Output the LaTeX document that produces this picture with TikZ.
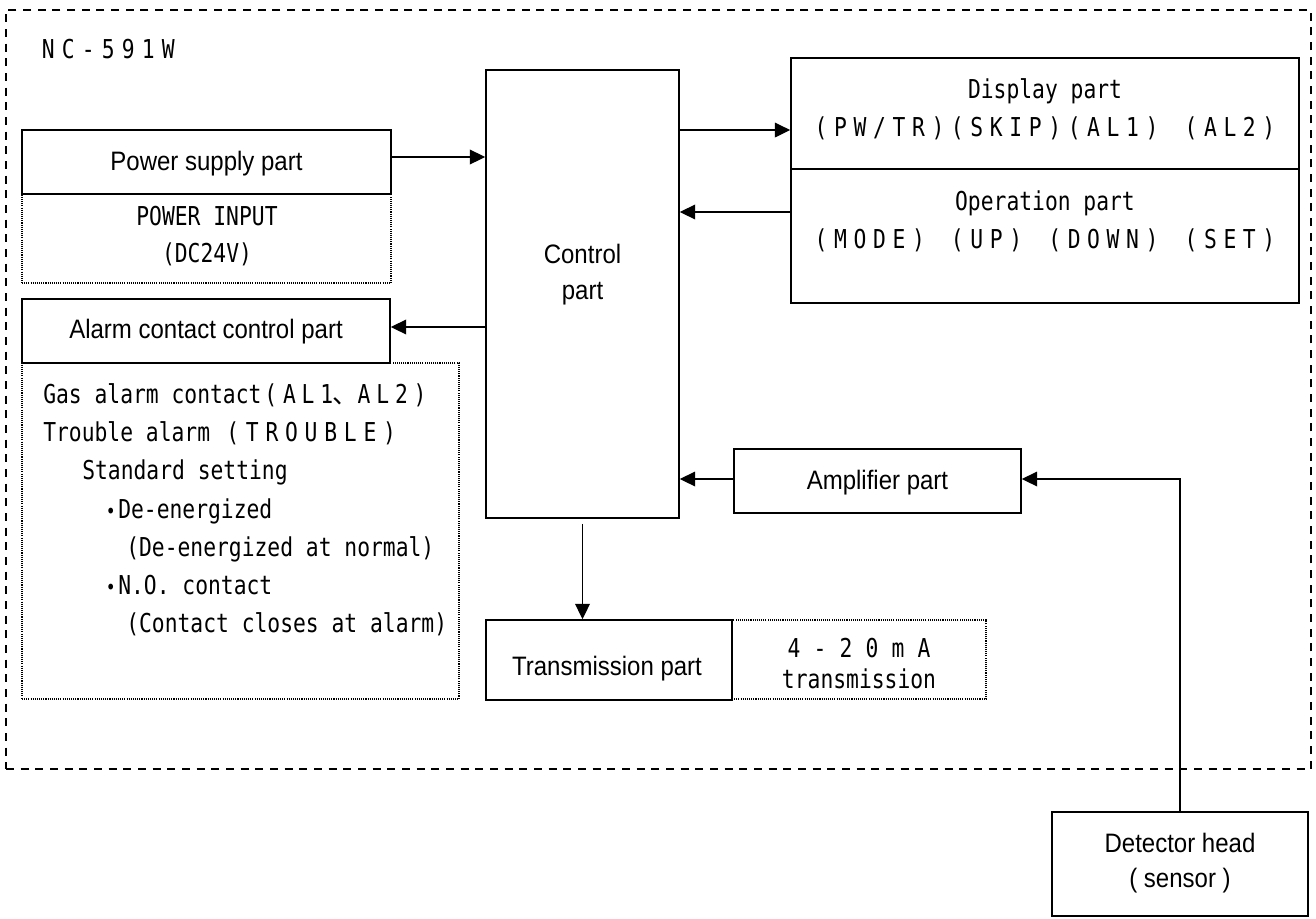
\documentclass[tikz,border=0pt]{standalone}
\usepackage{fontspec}
\setmainfont{Liberation Sans}[FakeStretch=0.9]
\newfontfamily\monof{DejaVu Sans Mono}[FakeStretch=0.82]
\newfontfamily\cjkf{Noto Sans CJK JP}
\usetikzlibrary{arrows.meta}
\makeatletter
\newlength\fwlen
\newcommand\fwstr[2]{\setlength\fwlen{#1}\@tfor\fw@c:=#2\do{\makebox[\fwlen]{\fw@c}}}
\makeatother
\newcommand\labf{\fontsize{20pt}{24pt}\selectfont}
\newcommand\monotxt{\monof\fontsize{19.5pt}{24pt}\selectfont}
\newcommand\bul{\makebox[11.25pt]{\monof\fontsize{15pt}{18pt}\selectfont •}}
\tikzset{
  blk/.style={draw, line width=1.2pt, inner sep=0pt},
  notebox/.style={draw, line width=0.8pt, dash pattern=on 0.8pt off 0.8pt, inner sep=0pt},
  unitbox/.style={draw, line width=1.1pt, dash pattern=on 6pt off 5pt, inner sep=0pt},
  lab/.style={font=\labf, inner sep=0pt},
  mono/.style={font=\monotxt, inner sep=0pt},
  arr/.style={line width=1pt, -{Triangle[length=11.5pt,width=11pt]}},
  wire/.style={line width=1pt}
}
\begin{document}
\begin{tikzpicture}[x=0.75pt,y=-0.75pt]
\useasboundingbox (0,0) rectangle (1316,918);
% outer unit
\node[unitbox, minimum width=978.75pt, minimum height=569.25pt] (unit) at (658.5,389.5) {};
% note boxes
\node[notebox, minimum width=276.75pt, minimum height=66.75pt] (psunote) at (206.5,238.5) {};
\node[notebox, minimum width=327.75pt, minimum height=252pt] (alnote) at (240.5,531) {};
\node[notebox, minimum width=190.5pt, minimum height=59.25pt] (trnote) at (859,659.5) {};
% solid boxes
\node[blk, minimum width=276.75pt, minimum height=48pt] (psu) at (206.5,162) {};
\node[blk, minimum width=276pt, minimum height=48pt] (alarm) at (206,331) {};
\node[blk, minimum width=144.75pt, minimum height=336pt] (ctrl) at (582.5,294) {};
\node[blk, minimum width=381pt, minimum height=83.25pt] (disp) at (1045,113.5) {};
\node[blk, minimum width=381pt, minimum height=100.5pt] (oper) at (1045,236) {};
\node[blk, minimum width=215.25pt, minimum height=48pt] (amp) at (877.5,481) {};
\node[blk, minimum width=184.5pt, minimum height=60pt] (trans) at (609,660) {};
\node[blk, minimum width=192pt, minimum height=78pt] (det) at (1180,864) {};
% texts
\node[mono, anchor=base west] (nc) at (38,58) {\fwstr{15pt}{NC-591W}};
\node[lab, anchor=base] (tpsu) at (206.5,170) {Power supply part};
\node[mono, anchor=base] (tpin) at (207,225) {POWER INPUT};
\node[mono, anchor=base] (tdc) at (207,262) {(DC24V)};
\node[lab, anchor=base] (tal) at (206,338) {Alarm contact control part};
\node[mono, anchor=base west] (n1) at (43,403) {Gas alarm contact\fwstr{14pt}{(AL1{\cjkf 、}AL2)}};
\node[mono, anchor=base west] (n2) at (43,441) {Trouble alarm \fwstr{14.7pt}{(TROUBLE)}};
\node[mono, anchor=base west] (n3) at (82,479) {Standard setting};
\node[mono, anchor=base west] (n4) at (103,518) {\bul De-energized};
\node[mono, anchor=base west] (n5) at (126,556) {(De-energized at normal)};
\node[mono, anchor=base west] (n6) at (103,594) {\bul N.O. contact};
\node[mono, anchor=base west] (n7) at (126,632) {(Contact closes at alarm)};
\node[lab, anchor=base] (tc1) at (582.5,263) {Control};
\node[lab, anchor=base] (tc2) at (582.5,299) {part};
\node[mono, anchor=base] (td1) at (1045,98) {Display part};
\node[mono, anchor=base] (td2) at (1045,136) {\fwstr{14.6pt}{(PW/TR)(SKIP)(AL1)~(AL2)}};
\node[mono, anchor=base] (to1) at (1045,210) {Operation part};
\node[mono, anchor=base] (to2) at (1045,248) {\fwstr{14.6pt}{(MODE)~(UP)~(DOWN)~(SET)}};
\node[lab, anchor=base] (tamp) at (877.5,489) {Amplifier part};
\node[lab, anchor=base] (ttr) at (607,675) {Transmission part};
\node[mono, anchor=base] (tma) at (859,657) {\fwstr{19.5pt}{4-20mA}};
\node[mono, anchor=base] (ttx) at (859,688) {transmission};
\node[lab, anchor=base] (tdet1) at (1180,852) {Detector head};
\node[lab, anchor=base] (tdet2) at (1180,887) {( sensor )};
% connectors
\draw[arr] ([yshift=3.75pt]psu.east) -- ([yshift=3.75pt]psu.east -| ctrl.west);
\draw[arr] ([yshift=-12.4pt]disp.west -| ctrl.east) -- ([yshift=-12.4pt]disp.west);
\draw[arr] ([yshift=18pt]oper.west) -- ([yshift=18pt]oper.west -| ctrl.east);
\draw[arr] ([yshift=3pt]alarm.east -| ctrl.west) -- ([yshift=3pt]alarm.east);
\draw[arr] ([yshift=1.5pt]amp.west) -- ([yshift=1.5pt]amp.west -| ctrl.east);
\draw[arr] (det.north) |- ([yshift=1.5pt]amp.east);
\draw[arr] ([yshift=-3.75pt]ctrl.south) -- (ctrl.south |- trans.north);
\end{tikzpicture}
\end{document}
